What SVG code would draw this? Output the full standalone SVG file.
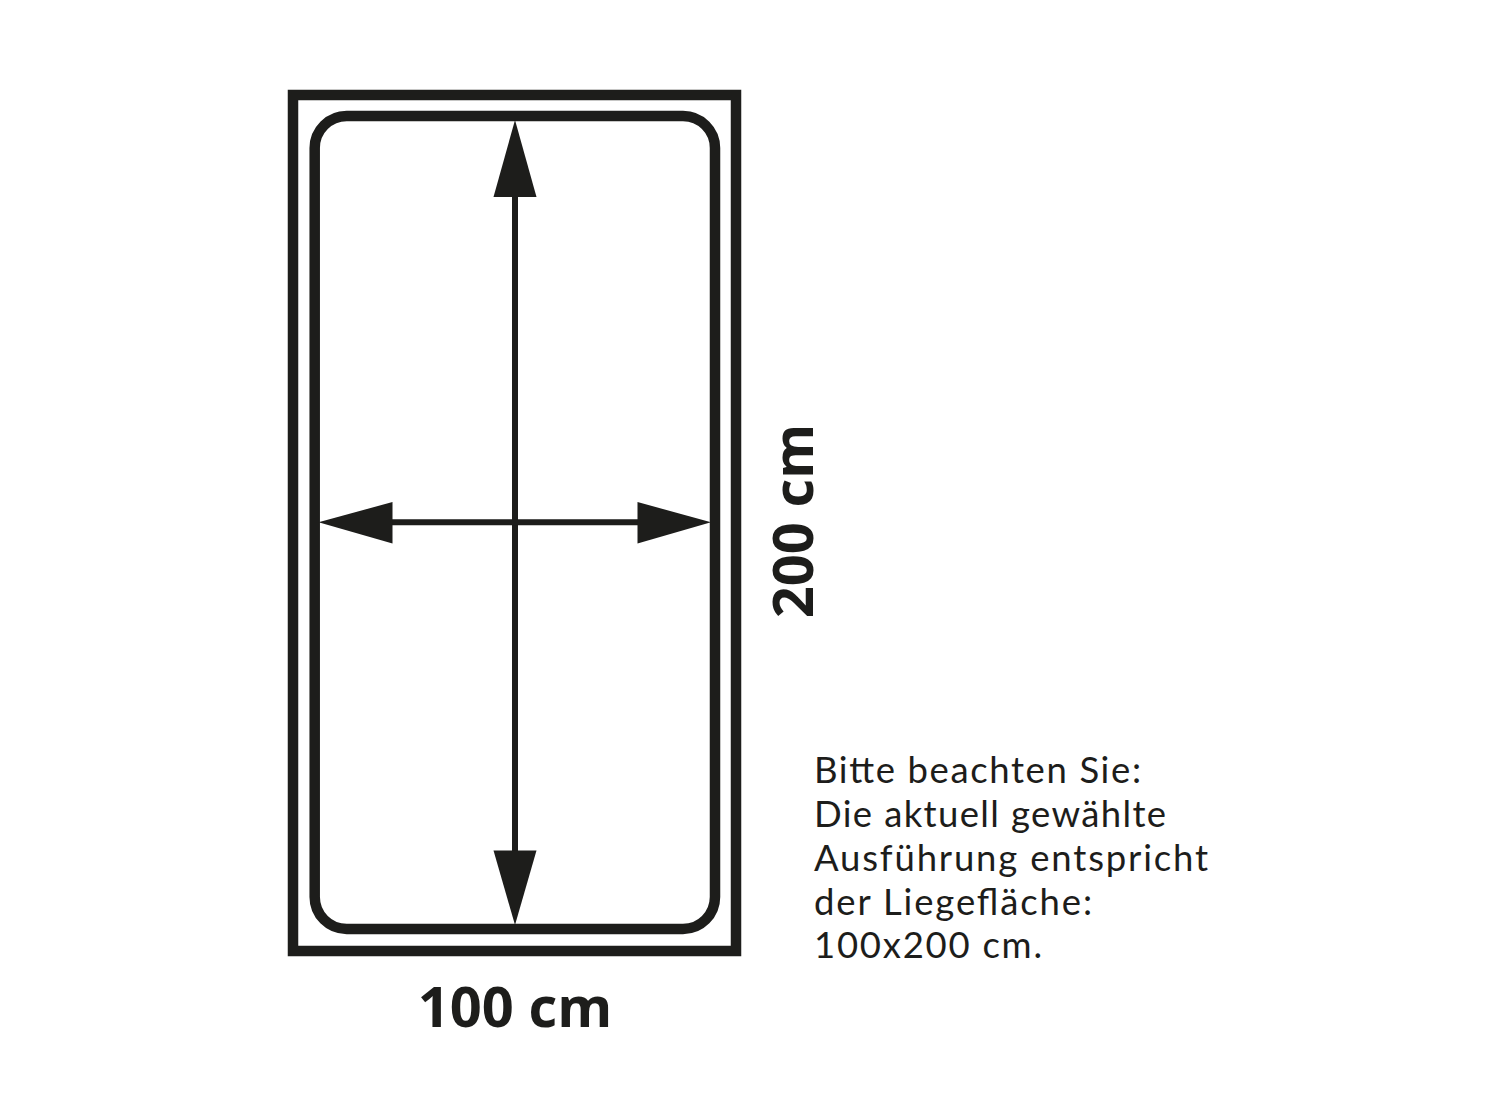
<svg xmlns="http://www.w3.org/2000/svg" width="1492" height="1119" viewBox="0 0 1492 1119">
<style>
.frame{fill:none;stroke:#1d1d1b;stroke-width:10.5}
.line{stroke:#1d1d1b;stroke-width:6;fill:none}
.head{fill:#1d1d1b}
.dim{font-family:"Open Sans","Liberation Sans",sans-serif;font-weight:700;font-size:56px;fill:#1d1d1b}
.note{font-family:Lato,"Open Sans","Liberation Sans",sans-serif;font-size:36.5px;fill:#1d1d1b}
</style>
<rect width="1492" height="1119" fill="#fff"/>
<g id="bed-frame"><rect class="frame" x="293" y="95" width="443" height="856"/></g>
<g id="mattress"><rect class="frame" x="314.7" y="116" width="400.3" height="813" rx="32" ry="32"/></g>
<g id="connectors">
<line class="line" x1="515" y1="190" x2="515" y2="856"/>
<polygon class="head" points="515,120 493.5,197 536.5,197"/>
<polygon class="head" points="515,925 493.5,850.5 536.5,850.5"/>
<line class="line" x1="386" y1="522.3" x2="644" y2="522.3"/>
<polygon class="head" points="318.5,522.3 392.5,502 392.5,543.5"/>
<polygon class="head" points="711,522.3 637.5,502 637.5,543.5"/>
</g>
<g id="label-width"><text class="dim" x="515" y="1027" text-anchor="middle">100 cm</text></g>
<g id="label-length"><text class="dim" x="813" y="521" text-anchor="middle" transform="rotate(-90 813 521)">200 cm</text></g>
<g id="note">
<text class="note" x="814" y="783" textLength="327" lengthAdjust="spacing">Bitte beachten Sie:</text>
<text class="note" x="814" y="827" textLength="352" lengthAdjust="spacing">Die aktuell gewählte</text>
<text class="note" x="814" y="871" textLength="394" lengthAdjust="spacing">Ausführung entspricht</text>
<text class="note" x="814" y="915" textLength="278" lengthAdjust="spacing">der Liegefläche:</text>
<text class="note" x="814" y="958" textLength="228" lengthAdjust="spacing">100x200 cm.</text>
</g>
</svg>
